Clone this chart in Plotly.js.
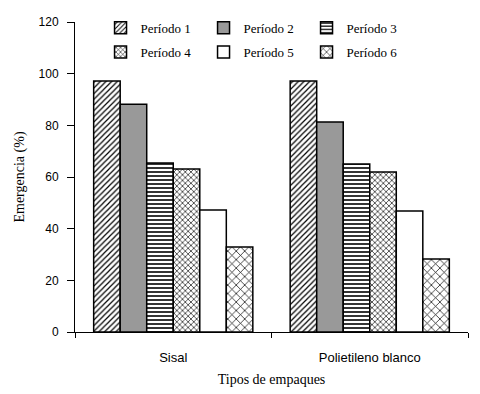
<!DOCTYPE html>
<html><head><meta charset="utf-8">
<script src="https://cdn.plot.ly/plotly-3.0.1.min.js"></script>
<style>html,body{margin:0;padding:0;background:#fff}</style>
</head><body><div id="chart" style="width:480px;height:394px"></div>
<script>
const categories = ["Sisal", "Polietileno blanco"];
const seriesNames = ["Período 1", "Período 2", "Período 3", "Período 4", "Período 5", "Período 6"];
const periodo1 = [97.2, 97.2];
const periodo2 = [88.2, 81.3];
const periodo3 = [65.4, 65.0];
const periodo4 = [63.1, 61.9];
const periodo5 = [47.2, 46.8];
const periodo6 = [32.9, 28.3];
const yTicks = [0, 20, 40, 60, 80, 100, 120];

const values = [periodo1, periodo2, periodo3, periodo4, periodo5, periodo6];
const styles = [
  {color: "#ffffff", pattern: {shape: "/", size: 4, solidity: 0.3, fgcolor: "#000", bgcolor: "#fff"}},
  {color: "#999999"},
  {color: "#ffffff", pattern: {shape: "-", size: 4, solidity: 0.4, fgcolor: "#000", bgcolor: "#fff"}},
  {color: "#ffffff", pattern: {shape: "x", size: 4, solidity: 0.3, fgcolor: "#000", bgcolor: "#fff"}},
  {color: "#ffffff"},
  {color: "#ffffff", pattern: {shape: "x", size: 6, solidity: 0.22, fgcolor: "#000", bgcolor: "#fff"}}
];

const traces = values.map((v, i) => ({
  type: "bar",
  name: seriesNames[i],
  x: categories,
  y: v,
  legend: i < 3 ? "legend" : "legend2",
  marker: Object.assign({line: {color: "#000", width: 1.5}}, styles[i])
}));

const serif = "Liberation Serif, Times New Roman, serif";
const sans = "Liberation Sans, Arial, sans-serif";
const legendCommon = {
  orientation: "h", xanchor: "left", yanchor: "middle",
  entrywidth: 58, entrywidthmode: "pixels",
  font: {family: serif, size: 13, color: "#000"},
  bgcolor: "rgba(0,0,0,0)", itemwidth: 30, tracegroupgap: 0
};

const layout = {
  width: 480, height: 394,
  margin: {l: 75, r: 12, t: 22, b: 62},
  paper_bgcolor: "#fff", plot_bgcolor: "#fff",
  bargap: 0.19, bargroupgap: 0,
  barmode: "group",
  showlegend: true,
  legend: Object.assign({x: 0.065, y: 0.981}, legendCommon),
  legend2: Object.assign({x: 0.065, y: 0.903}, legendCommon),
  xaxis: {
    type: "category",
    range: [-0.5, 1.5],
    showline: true, linecolor: "#000", linewidth: 1,
    ticks: "outside", tickson: "boundaries", ticklen: 5, tickcolor: "#000",
    ticklabelstandoff: 13,
    showgrid: false, zeroline: false,
    tickfont: {family: sans, size: 13, color: "#000"},
    title: {text: "Tipos de empaques", font: {family: serif, size: 14, color: "#000"}, standoff: 10}
  },
  yaxis: {
    range: [0, 120],
    tickvals: yTicks,
    showline: true, linecolor: "#000", linewidth: 1,
    ticks: "outside", ticklen: 7, tickcolor: "#000",
    ticklabelstandoff: 6,
    showgrid: false, zeroline: false,
    tickfont: {family: sans, size: 12, color: "#000"},
    title: {text: "Emergencia (%)", font: {family: serif, size: 14, color: "#000"}, standoff: 10}
  }
};

Plotly.newPlot("chart", traces, layout, {displayModeBar: false, staticPlot: true});
</script></body></html>
